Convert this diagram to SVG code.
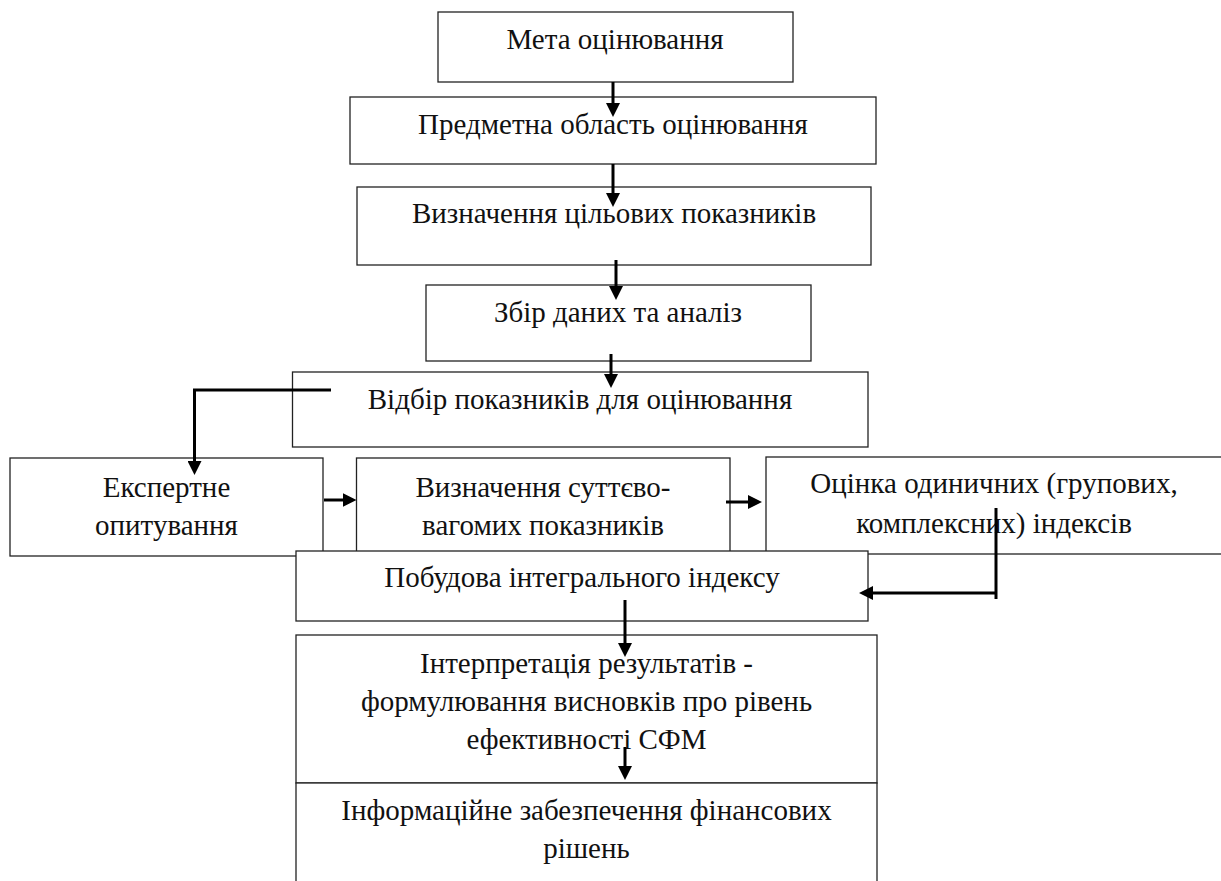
<svg xmlns="http://www.w3.org/2000/svg" width="1221" height="881" viewBox="0 0 1221 881" font-family="Liberation Serif, Times New Roman, serif">
<defs>
<style>
.box{fill:#fff;stroke:#222;stroke-width:1.3}
.t{font-size:29px;fill:#111;text-anchor:middle}
.c{fill:none;stroke:#000;stroke-width:3}
</style>
<marker id="ah" markerUnits="userSpaceOnUse" markerWidth="14" markerHeight="14" refX="4" refY="7" orient="auto">
<path d="M0,0 L14,7 L0,14 z" fill="#000"/>
</marker>
</defs>
<rect width="1221" height="881" fill="#fff"/>
<g id="n1"><rect class="box" x="438" y="12" width="355" height="70"/><text class="t" x="615" y="49">Мета оцінювання</text></g>
<g id="n2"><rect class="box" x="350" y="97" width="526" height="67"/><text class="t" x="613" y="134">Предметна область оцінювання</text></g>
<g id="n3"><rect class="box" x="357" y="187" width="514" height="78"/><text class="t" x="614" y="223">Визначення цільових показників</text></g>
<g id="n4"><rect class="box" x="426" y="285" width="385" height="76"/><text class="t" x="618" y="322">Збір даних та аналіз</text></g>
<g id="n5"><rect class="box" x="292.5" y="372" width="575.5" height="75"/><text class="t" x="580" y="409">Відбір показників для оцінювання</text></g>
<g id="n6"><rect class="box" x="10" y="458" width="313" height="98"/><text class="t" x="166.5" y="497">Експертне</text><text class="t" x="166.5" y="535">опитування</text></g>
<g id="n7"><rect class="box" x="356.5" y="458" width="373.5" height="98"/><text class="t" x="543" y="497">Визначення суттєво-</text><text class="t" x="543" y="535">вагомих показників</text></g>
<g id="n8"><rect class="box" x="766" y="457" width="470" height="97"/><text class="t" x="994" y="493">Оцінка одиничних (групових,</text><text class="t" x="994" y="533">комплексних) індексів</text></g>
<g id="n9"><rect class="box" x="296" y="551" width="572" height="70"/><text class="t" x="582" y="587">Побудова інтегрального індексу</text></g>
<g id="n10"><rect class="box" x="296" y="635" width="581" height="148"/><text class="t" x="586.5" y="673">Інтерпретація результатів -</text><text class="t" x="586.5" y="711">формулювання висновків про рівень</text><text class="t" x="586.5" y="749">ефективності СФМ</text></g>
<g id="n11"><rect class="box" x="296" y="783" width="581" height="120"/><text class="t" x="586.5" y="820">Інформаційне забезпечення фінансових</text><text class="t" x="586.5" y="858">рішень</text></g>
<g id="connectors">
<path class="c" d="M613,82 V107" marker-end="url(#ah)"/>
<path class="c" d="M613,164 V197" marker-end="url(#ah)"/>
<path class="c" d="M616,260 V290" marker-end="url(#ah)"/>
<path class="c" d="M611,354 V378" marker-end="url(#ah)"/>
<path class="c" d="M331,390 H194.5 V465" marker-end="url(#ah)"/>
<path class="c" d="M324,500 H346.5" marker-end="url(#ah)"/>
<path class="c" d="M726,502 H752" marker-end="url(#ah)"/>
<path class="c" d="M996,508 V599"/>
<path class="c" d="M996,593 H869" marker-end="url(#ah)"/>
<path class="c" d="M625,600 V647" marker-end="url(#ah)"/>
<path class="c" d="M625,747 V770" marker-end="url(#ah)"/>
</g>
</svg>
